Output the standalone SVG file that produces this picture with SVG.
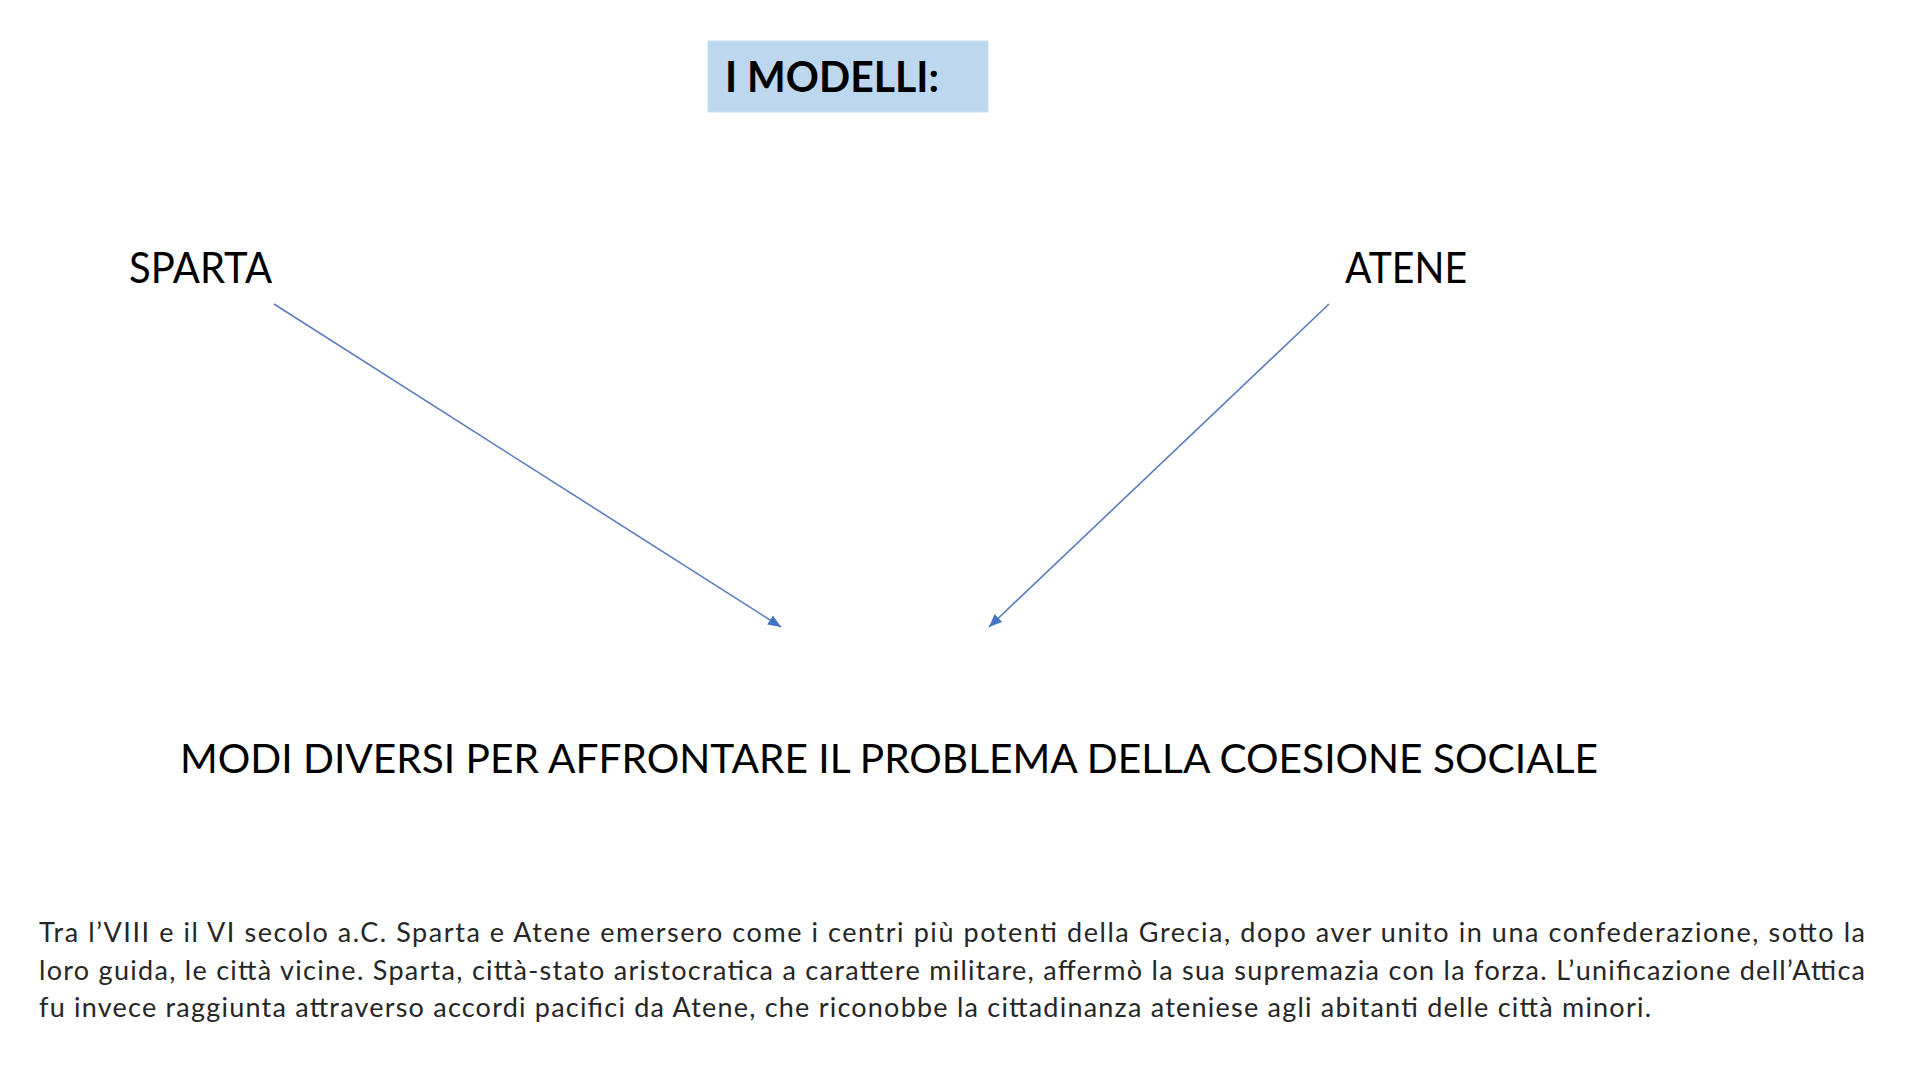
<svg xmlns="http://www.w3.org/2000/svg" width="1920" height="1080" viewBox="0 0 1920 1080">
<style>
  .h { font-family: Lato, "Open Sans", "Liberation Sans", sans-serif; fill: #000; }
  .p { font-family: Lato, "Open Sans", "Liberation Sans", sans-serif; font-size: 27px; fill: #262626; }
  .conn { stroke: #5B7DBE; stroke-width: 1.6; fill: none; }
</style>
<defs>
  <marker id="arrB" viewBox="0 0 12 10" refX="12" refY="5" markerWidth="13" markerHeight="11" markerUnits="userSpaceOnUse" orient="auto">
    <path d="M0,0 L12,5 L0,10 Z" fill="#4472C4"/>
  </marker>
</defs>
<rect width="1920" height="1080" fill="#fff"/>
<g id="title">
  <rect x="708" y="41" width="280" height="71" fill="#BDD7EE" stroke="#C9DDF0" stroke-width="1"/>
  <text class="h" x="725" y="92" font-size="42" font-weight="bold" textLength="214" lengthAdjust="spacingAndGlyphs">I MODELLI:</text>
</g>
<g id="sparta">
  <text class="h" x="129" y="283" font-size="42" textLength="143" lengthAdjust="spacingAndGlyphs">SPARTA</text>
</g>
<g id="atene">
  <text class="h" x="1345" y="283" font-size="42" textLength="122" lengthAdjust="spacingAndGlyphs">ATENE</text>
</g>
<g id="connectors">
  <line class="conn" x1="274" y1="304" x2="781" y2="627" marker-end="url(#arrB)"/>
  <line class="conn" x1="1329" y1="304" x2="989" y2="627" marker-end="url(#arrB)"/>
</g>
<g id="modi">
  <text class="h" x="180" y="773" font-size="40.5" textLength="1418" lengthAdjust="spacingAndGlyphs">MODI DIVERSI PER AFFRONTARE IL PROBLEMA DELLA COESIONE SOCIALE</text>
</g>
<g id="paragraph">
  <text class="p" x="39" y="942" textLength="1826" lengthAdjust="spacing">Tra l’VIII e il VI secolo a.C. Sparta e Atene emersero come i centri più potenti della Grecia, dopo aver unito in una confederazione, sotto la</text>
  <text class="p" x="39" y="980" textLength="1826" lengthAdjust="spacing">loro guida, le città vicine. Sparta, città-stato aristocratica a carattere militare, affermò la sua supremazia con la forza. L’unificazione dell’Attica</text>
  <text class="p" x="39" y="1017" textLength="1612" lengthAdjust="spacing">fu invece raggiunta attraverso accordi pacifici da Atene, che riconobbe la cittadinanza ateniese agli abitanti delle città minori.</text>
</g>
</svg>
